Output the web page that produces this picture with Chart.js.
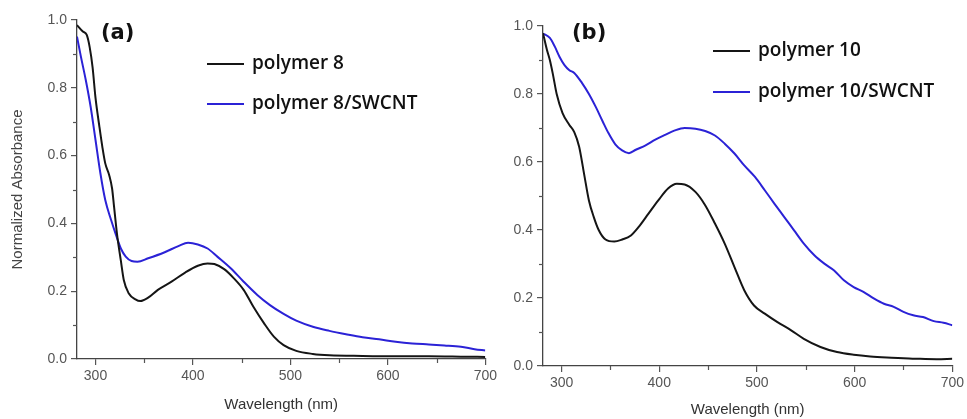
<!DOCTYPE html>
<html>
<head>
<meta charset="utf-8">
<script src="https://cdn.jsdelivr.net/npm/chart.js@4/dist/chart.umd.min.js"></script>
<style>
  html, body { margin: 0; padding: 0; background: #fff; }
  #wrap { position: relative; width: 967px; height: 419px; }
  canvas { position: absolute; top: 0; }
  #panelA { left: 0; }
  #panelB { left: 500px; }
</style>
</head>
<body>
<div id="wrap">
  <canvas id="panelA" width="500" height="419"></canvas>
  <canvas id="panelB" width="467" height="419"></canvas>
</div>
<script>
// panel (a) - polymer 8
const wl8 = [281,287,291,294,297,300,304,307,310,314,317,319,322,326,329,334,341,346,354,364,378,392,405,415,422,432,442,452,462,473,483,493,506,523,540,574,608,642,675,700];
const abs8 = [0.985,0.966,0.956,0.92,0.86,0.77,0.685,0.626,0.577,0.543,0.503,0.45,0.37,0.29,0.233,0.194,0.176,0.171,0.181,0.204,0.228,0.255,0.275,0.282,0.280,0.265,0.238,0.204,0.154,0.105,0.066,0.041,0.024,0.015,0.011,0.009,0.008,0.008,0.007,0.006];
const wl8cnt = [281,285,290,295,300,305,310,316,321,326,331,337,343,354,371,385,395,405,415,425,439,452,466,479,493,506,523,540,557,574,591,608,625,642,658,675,689,700];
const abs8cnt = [0.951,0.892,0.823,0.744,0.646,0.548,0.469,0.41,0.366,0.326,0.302,0.289,0.287,0.297,0.315,0.333,0.343,0.338,0.326,0.302,0.267,0.228,0.189,0.159,0.133,0.113,0.095,0.083,0.073,0.064,0.058,0.051,0.046,0.043,0.040,0.036,0.029,0.025];

// panel (b) - polymer 10
const wl10 = [281,285,288,291,295,301,308,313,318,323,328,333,338,345,354,362,371,379,389,399,409,418,426,437,447,457,467,477,487,497,508,521,535,548,565,582,599,616,633,650,667,684,700];
const abs10 = [0.979,0.93,0.90,0.86,0.80,0.744,0.709,0.688,0.645,0.566,0.487,0.438,0.40,0.372,0.366,0.372,0.384,0.409,0.448,0.487,0.522,0.536,0.534,0.512,0.473,0.419,0.36,0.291,0.223,0.178,0.154,0.129,0.105,0.080,0.056,0.041,0.033,0.028,0.025,0.023,0.021,0.020,0.021];
const wl10cnt = [281,288,293,298,303,308,313,321,328,335,342,348,355,362,369,376,386,396,406,416,426,437,447,457,467,477,487,498,508,518,528,538,548,559,569,579,589,599,609,620,630,640,650,660,670,681,691,700];
const abs10cnt = [0.978,0.965,0.94,0.909,0.885,0.87,0.862,0.832,0.80,0.762,0.72,0.685,0.652,0.634,0.626,0.636,0.649,0.666,0.680,0.693,0.700,0.698,0.691,0.678,0.654,0.625,0.590,0.556,0.517,0.477,0.438,0.399,0.360,0.325,0.301,0.281,0.252,0.232,0.218,0.198,0.183,0.174,0.159,0.149,0.144,0.132,0.127,0.120];

const minorX = [350, 450, 550, 650];
const minorY = [0.1, 0.3, 0.5, 0.7, 0.9];

const BLACK = '#151515';
const BLUE = '#2b22d6';

const pts = (xs, ys) => xs.map((x, i) => ({x: x, y: ys[i]}));

// minor ticks, panel letter and legend
const decor = {
  id: 'decor',
  afterDraw(chart, args, opts) {
    const ctx = chart.ctx;
    const xs = chart.scales.x, ys = chart.scales.y;
    ctx.save();
    ctx.strokeStyle = '#555';
    ctx.lineWidth = 1.2;
    minorX.forEach(v => {
      const px = Math.round(xs.getPixelForValue(v)) + 0.5;
      ctx.beginPath(); ctx.moveTo(px, xs.top); ctx.lineTo(px, xs.top + 4); ctx.stroke();
    });
    minorY.forEach(v => {
      const py = Math.round(ys.getPixelForValue(v)) + 0.5;
      ctx.beginPath(); ctx.moveTo(ys.right - 4, py); ctx.lineTo(ys.right, py); ctx.stroke();
    });

    ctx.fillStyle = '#111';
    ctx.font = 'bold 21px "DejaVu Sans"';
    ctx.textBaseline = 'middle';
    ctx.textAlign = 'left';
    ctx.fillText(opts.letter, opts.letterX, opts.letterY);

    ctx.font = '600 19px "Open Sans"';
    chart.data.datasets.forEach((ds, i) => {
      const y = opts.legY + i * opts.legGap;
      ctx.strokeStyle = ds.borderColor;
      ctx.lineWidth = 2;
      ctx.beginPath(); ctx.moveTo(opts.legX, y); ctx.lineTo(opts.legX + 37, y); ctx.stroke();
      ctx.fillStyle = '#111';
      ctx.fillText(ds.label, opts.legX + 45, y);
    });
    ctx.restore();
  }
};

function makePanel(id, sets, cfg) {
  return new Chart(document.getElementById(id), {
    type: 'line',
    data: {
      datasets: sets.map(s => ({
        label: s.label,
        data: pts(s.xs, s.ys),
        borderColor: s.color,
        borderWidth: 2,
        pointRadius: 0,
        fill: false,
        cubicInterpolationMode: 'monotone'
      }))
    },
    options: {
      responsive: false,
      animation: false,
      events: [],
      layout: { padding: cfg.padding },
      plugins: {
        legend: { display: false },
        tooltip: { enabled: false },
        decor: cfg.decor
      },
      scales: {
        x: {
          type: 'linear',
          min: 281, max: 700,
          border: { color: '#444', width: 1.3 },
          grid: { drawOnChartArea: false, tickLength: 6, color: '#555', lineWidth: 1.2 },
          ticks: { stepSize: 100, includeBounds: false, color: '#555', padding: 3,
                   font: { family: 'Liberation Sans', size: 14 } },
          title: { display: true, text: 'Wavelength (nm)', color: '#333',
                   font: { family: 'Liberation Sans', size: 15 },
                   padding: cfg.xTitlePad },
          afterFit: s => { s.height = cfg.xHeight; }
        },
        y: {
          min: 0, max: 1,
          border: { color: '#444', width: 1.3 },
          grid: { drawOnChartArea: false, tickLength: 6, color: '#555', lineWidth: 1.2 },
          ticks: { stepSize: 0.2, color: '#555', padding: 4,
                   callback: v => v.toFixed(1),
                   font: { family: 'Liberation Sans', size: 14 } },
          title: { display: cfg.yTitle, text: 'Normalized Absorbance', color: '#444',
                   font: { family: 'Liberation Sans', size: 15 },
                   padding: { top: 9, bottom: 0 } },
          afterFit: s => { s.width = cfg.yWidth; }
        }
      }
    },
    plugins: [decor]
  });
}

makePanel('panelA', [
  { label: 'polymer 8', xs: wl8, ys: abs8, color: BLACK },
  { label: 'polymer 8/SWCNT', xs: wl8cnt, ys: abs8cnt, color: BLUE }
], {
  padding: { left: 0, right: 10, top: 20, bottom: 0 },
  xHeight: 60, yWidth: 77, yTitle: true,
  xTitlePad: { top: 4, bottom: 5 },
  decor: { letter: '(a)', letterX: 101, letterY: 34, legX: 207, legY: 64, legGap: 40 }
});

makePanel('panelB', [
  { label: 'polymer 10', xs: wl10, ys: abs10, color: BLACK },
  { label: 'polymer 10/SWCNT', xs: wl10cnt, ys: abs10cnt, color: BLUE }
], {
  padding: { left: 0, right: 11, top: 26, bottom: 0 },
  xHeight: 53, yWidth: 43, yTitle: false,
  xTitlePad: { top: 4, bottom: 0 },
  decor: { letter: '(b)', letterX: 72, letterY: 34, legX: 213, legY: 51, legGap: 41 }
});
</script>
</body>
</html>
